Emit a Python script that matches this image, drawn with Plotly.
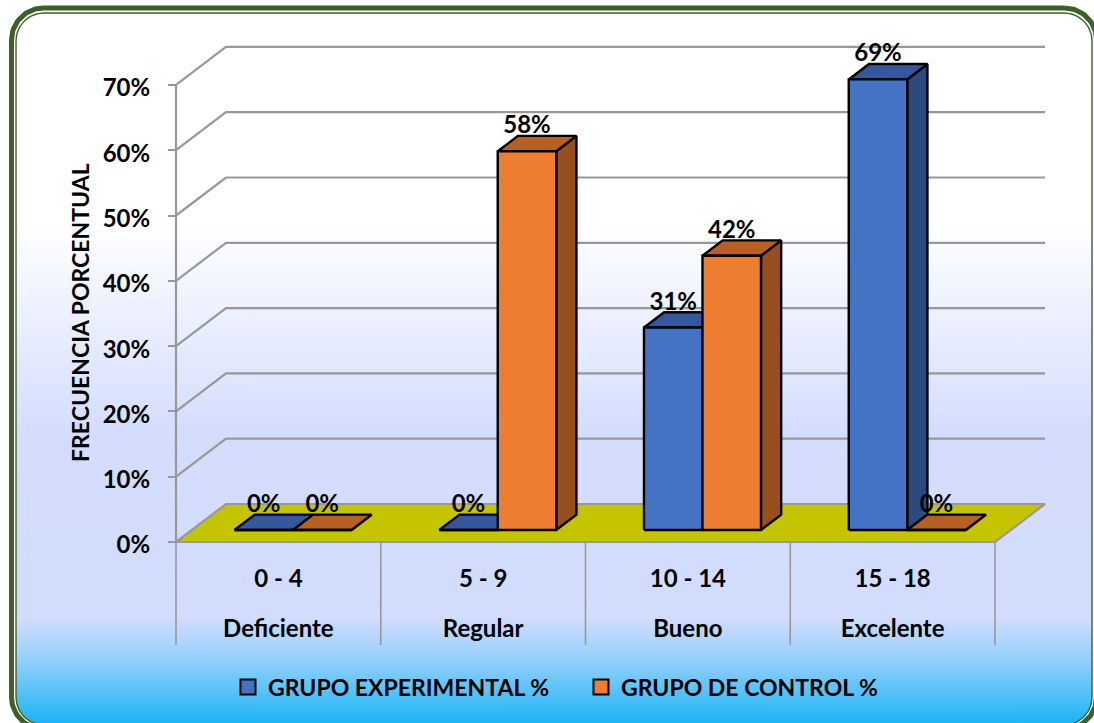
import numpy as np
import plotly.graph_objects as go

# Chart data
score_ranges = ["0 - 4", "5 - 9", "10 - 14", "15 - 18"]
levels = ["Deficiente", "Regular", "Bueno", "Excelente"]
experimental = [0, 0, 31, 69]
control = [0, 58, 42, 0]
y_ticks = [0, 10, 20, 30, 40, 50, 60, 70]
series_names = ["GRUPO EXPERIMENTAL %", "GRUPO DE CONTROL %"]
y_title = "FRECUENCIA PORCENTUAL"

# Page and plot geometry (pixels)
W, H = 1094, 723
PX_PER_CAT = 204.75
PX_PER_PCT = 6.53
X0_PX, Y0_PX = 176, 542
PLOT_L, PLOT_R, PLOT_T, PLOT_B = 170, 1052, 40, 650

# Oblique projection: a full step in depth moves right and up by these amounts
DX = 50 / PX_PER_CAT
DY = 38 / PX_PER_PCT
BAR_WIDTH = 1 / 3.5
BAR_SHIFT = -1.2 / PX_PER_CAT
BAR_FRONT, BAR_BACK = 0.316, 0.72
LABEL_DEPTH = 0.63
FLOOR_DROP = -(645 - Y0_PX) / PX_PER_PCT
LEVEL_ROW = -(631 - Y0_PX) / PX_PER_PCT

FONT = "Lato"
SIZE = 24
GREY = "#989898"
GREEN = "#3f5f28"
FACES = {
    0: dict(front="#4472c4", top="#34589a", side="#2b4a7f"),
    1: dict(front="#ed7d31", top="#b66024", side="#984f1e"),
}


def project(cat, val, depth=0.0):
    return cat + depth * DX, val + depth * DY


def polygon(points, fill, line_color="black", line_width=2.4):
    xs, ys = zip(*(project(*p) for p in points))
    return go.Scatter(
        x=list(xs) + [xs[0]], y=list(ys) + [ys[0]], mode="lines", fill="toself",
        fillcolor=fill, line=dict(color=line_color, width=line_width, shape="linear"),
        hoverinfo="skip", showlegend=False, xaxis="x2", yaxis="y2",
    )


def polyline(points, color=GREY, width=2.2):
    xs, ys = zip(*(project(*p) for p in points))
    return go.Scatter(
        x=xs, y=ys, mode="lines", line=dict(color=color, width=width),
        hoverinfo="skip", showlegend=False, xaxis="x2", yaxis="y2",
    )


def rounded_rect(left, top, right, bottom, r, n=24):
    corners = [
        (right - r, top + r, -np.pi / 2, 0),
        (right - r, bottom - r, 0, np.pi / 2),
        (left + r, bottom - r, np.pi / 2, np.pi),
        (left + r, top + r, np.pi, 3 * np.pi / 2),
    ]
    xs, ys = [], []
    for cx, cy, a0, a1 in corners:
        t = np.linspace(a0, a1, n)
        xs.extend(cx + r * np.cos(t))
        ys.extend(cy + r * np.sin(t))
    return xs + xs[:1], ys + ys[:1]


fig = go.Figure()

# Panel background and double green frame, on a full-page pixel axis pair
x_in, y_in = rounded_rect(16, 13, 1092, 725, 28)
GRAD_START, GRAD_STOP = 13, 725
stop_at = lambda py: (py - GRAD_START) / (GRAD_STOP - GRAD_START)
fig.add_trace(go.Scatter(
    x=x_in, y=y_in, mode="lines", fill="toself",
    line=dict(color=GREEN, width=1.4),
    fillgradient=dict(
        type="vertical", start=GRAD_START, stop=GRAD_STOP,
        colorscale=[
            [0, "#ffffff"], [stop_at(225), "#ffffff"], [stop_at(430), "#d4ddfd"],
            [stop_at(618), "#d2dcfd"], [stop_at(660), "#93d0fb"], [1, "#18b3f5"],
        ],
    ),
    hoverinfo="skip", showlegend=False,
))
x_out, y_out = rounded_rect(11.5, 8, 1096.5, 729, 32)
fig.add_trace(go.Scatter(
    x=x_out, y=y_out, mode="lines", line=dict(color=GREEN, width=5),
    hoverinfo="skip", showlegend=False,
))

n_cats = len(score_ranges)

# Back wall and side wall gridlines
for v in y_ticks[1:]:
    fig.add_trace(polyline([(0, v), (0, v, 1), (n_cats, v, 1)]))

# Floor, axis line and category dividers
fig.add_trace(polygon([(0, 0), (n_cats, 0), (n_cats, 0, 1), (0, 0, 1)], "#c4c400", GREY, 2.2))
fig.add_trace(polyline([(0, y_ticks[0]), (0, y_ticks[-1])]))
for i in range(n_cats + 1):
    fig.add_trace(polyline([(i, 0), (i, FLOOR_DROP)], width=1.6))

# Bars: side, top and front faces of each box
label_x, label_y, label_text = [], [], []
for i in range(n_cats):
    center = i + 0.5 + BAR_SHIFT
    for s, values in enumerate([experimental, control]):
        v = values[i]
        left = center + (s - 1) * BAR_WIDTH
        right = left + BAR_WIDTH
        faces = FACES[s]
        fig.add_trace(polygon([(right, 0, BAR_FRONT), (right, 0, BAR_BACK),
                               (right, v, BAR_BACK), (right, v, BAR_FRONT)], faces["side"]))
        fig.add_trace(polygon([(left, v, BAR_FRONT), (right, v, BAR_FRONT),
                               (right, v, BAR_BACK), (left, v, BAR_BACK)], faces["top"]))
        fig.add_trace(polygon([(left, 0, BAR_FRONT), (right, 0, BAR_FRONT),
                               (right, v, BAR_FRONT), (left, v, BAR_FRONT)], faces["front"]))
        label_x.append(project(left + BAR_WIDTH / 2, v, BAR_FRONT)[0])
        label_y.append(project(left, v, LABEL_DEPTH)[1])
        label_text.append(f"{v}%")

# Value labels centred over the front face, above the bar top
fig.add_trace(go.Scatter(
    x=label_x, y=label_y, text=label_text, mode="text", textposition="top center",
    textfont=dict(family=FONT, size=SIZE, color="black", weight=700),
    hoverinfo="skip", showlegend=False, xaxis="x2", yaxis="y2", cliponaxis=False,
))

# Second row of category labels
fig.add_trace(go.Scatter(
    x=[i + 0.5 for i in range(n_cats)], y=[LEVEL_ROW] * n_cats, text=levels,
    mode="text", textposition="middle center",
    textfont=dict(family=FONT, size=SIZE, color="black", weight=700),
    hoverinfo="skip", showlegend=False, xaxis="x2", yaxis="y2",
))

# Legend swatches
for s, name in enumerate(series_names):
    fig.add_trace(go.Scatter(
        x=[None], y=[None], mode="markers", name=name,
        marker=dict(symbol="square", size=15, color=FACES[s]["front"],
                    line=dict(color="black", width=2)),
        xaxis="x2", yaxis="y2",
    ))

fig.update_layout(
    width=W, height=H, margin=dict(l=0, r=0, t=0, b=0),
    paper_bgcolor="white", plot_bgcolor="rgba(0,0,0,0)",
    font=dict(family=FONT, size=SIZE, color="black", weight=700),
    xaxis=dict(domain=[0, 1], range=[0, W], visible=False, fixedrange=True),
    yaxis=dict(domain=[0, 1], range=[H, 0], visible=False, fixedrange=True),
    xaxis2=dict(
        domain=[PLOT_L / W, PLOT_R / W],
        range=[(PLOT_L - X0_PX) / PX_PER_CAT, (PLOT_R - X0_PX) / PX_PER_CAT],
        anchor="free", position=(H - Y0_PX) / H,
        tickmode="array", tickvals=[i + 0.5 for i in range(n_cats)],
        ticktext=score_ranges,
        tickfont=dict(family=FONT, size=SIZE, weight=700),
        showgrid=False, zeroline=False, showline=False, ticks="", ticklabelstandoff=20,
    ),
    yaxis2=dict(
        domain=[(H - PLOT_B) / H, (H - PLOT_T) / H],
        range=[(Y0_PX - PLOT_B) / PX_PER_PCT, (Y0_PX - PLOT_T) / PX_PER_PCT],
        anchor="free", position=X0_PX / W,
        tickmode="array", tickvals=y_ticks, ticktext=[f"{v}%" for v in y_ticks],
        tickfont=dict(family=FONT, size=SIZE, weight=700),
        ticks="outside", ticklen=8, tickwidth=1.6, tickcolor=GREY, ticklabelstandoff=13,
        ticklabelshift=3,
        showgrid=False, zeroline=False, showline=False,
    ),
    annotations=[dict(
        text=y_title, textangle=-90, showarrow=False,
        xref="paper", yref="paper", x=80 / W, y=(H - 313) / H,
        xanchor="center", yanchor="middle",
        font=dict(family=FONT, size=23, weight=700),
    )],
    legend=dict(
        orientation="h", x=228 / W, xanchor="left", y=(H - 687) / H, yanchor="middle",
        bgcolor="rgba(0,0,0,0)", font=dict(family=FONT, size=23, weight=700),
        entrywidthmode="pixels", entrywidth=308,
    ),
)

fig.write_html("out.html")
